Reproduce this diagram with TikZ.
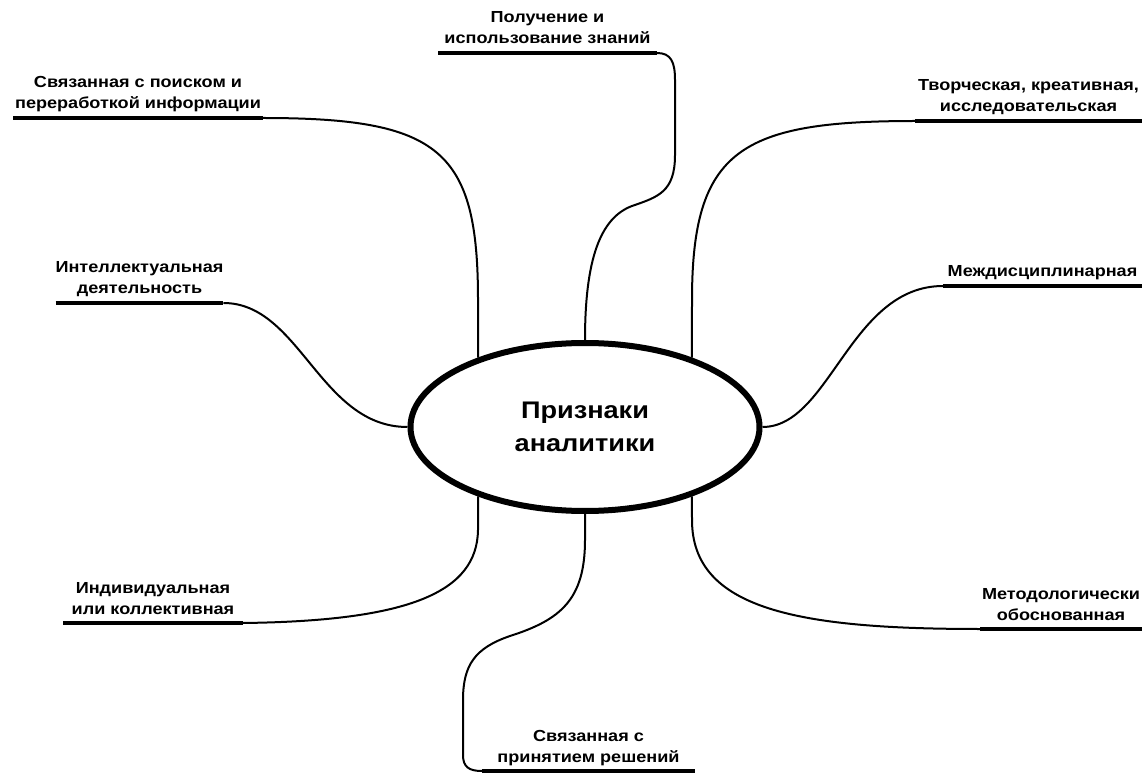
\documentclass[tikz,border=0pt]{standalone}
\usepackage{fontspec}
\setmainfont{Liberation Sans}[FakeStretch=1.13]
\usetikzlibrary{shapes.geometric}
\begin{document}
\begin{tikzpicture}[x=1pt,y=-1pt,
  lbl/.style={font=\bfseries\fontsize{16}{21}\selectfont, align=center, text depth=0pt,
    inner xsep=0pt, inner ysep=9pt, outer sep=0pt, anchor=south},
  uline/.style={line width=4.5pt},
  conn/.style={line width=2pt},
  centre/.style={draw, ellipse, line width=6pt, minimum width=349pt, minimum height=168pt,
    inner sep=0pt, fill=white, align=center, font=\bfseries\fontsize{24}{33}\selectfont}
]
\useasboundingbox (0,0) rectangle (1146,775);

\node[centre] (c) at (585,427) {Признаки\\аналитики};

\node[lbl, minimum width=250pt] (l1) at (138,118) {Связанная с поиском и\\переработкой информации};
\node[lbl, minimum width=219pt] (l2) at (547.5,53) {Получение и\\использование знаний};
\node[lbl, minimum width=227pt] (l3) at (1028.5,121) {Творческая, креативная,\\исследовательская};
\node[lbl, minimum width=199pt] (l4) at (1042.5,286) {Междисциплинарная};
\node[lbl, minimum width=167pt] (l5) at (139.5,303) {Интеллектуальная\\деятельность};
\node[lbl, minimum width=180pt] (l6) at (153,623) {Индивидуальная\\или коллективная};
\node[lbl, minimum width=213pt] (l7) at (588.5,771) {Связанная с\\принятием решений};
\node[lbl, minimum width=162pt] (l8) at (1061,629) {Методологически\\обоснованная};

\foreach \n in {l1,l2,l3,l4,l5,l6,l7,l8}
  \draw[uline] (\n.south west) -- (\n.south east);

% connectors
\draw[conn] (l1.south east) .. controls (440,118) and (478,150) .. (478,300) -- (c.147);
\draw[conn] (l2.south east) .. controls (671,53) and (675,62) .. (675,80) -- (675,155)
  .. controls (675,192) and (658,197) .. (632,206)
  .. controls (600,218) and (585,260) .. (c.north);
\draw[conn] (c.33) -- (692,300) .. controls (692,150) and (740,121) .. (l3.south west);
\draw[conn] (c.east) .. controls (830,427) and (850,286) .. (l4.south west);
\draw[conn] (l5.south east) .. controls (300,303) and (320,427) .. (c.west);
\draw[conn] (c.213) -- (478,530) .. controls (477,592) and (410,621) .. (l6.south east);
\draw[conn] (c.south) -- (585,540) .. controls (585,600) and (560,620) .. (510,636)
  .. controls (475,648) and (463,665) .. (463,700) -- (463,755)
  .. controls (463,767) and (469,771) .. (l7.south west);
\draw[conn] (c.327) -- (692,520) .. controls (692,610) and (800,629) .. (l8.south west);
\end{tikzpicture}
\end{document}
